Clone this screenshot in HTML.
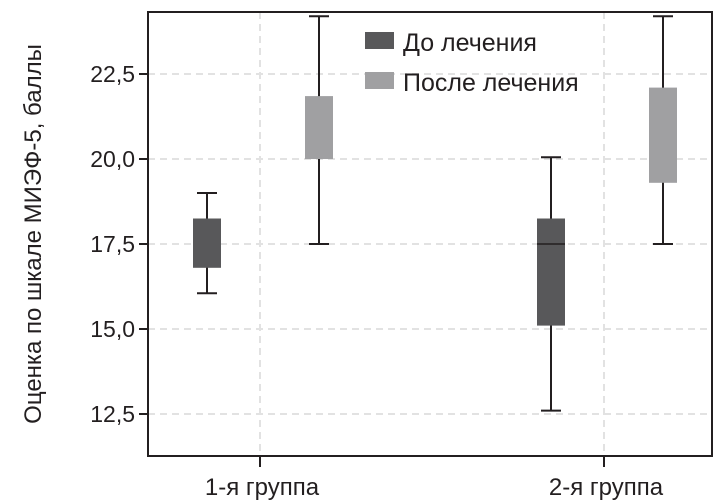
<!DOCTYPE html>
<html><head><meta charset="utf-8"><style>
html,body{margin:0;padding:0;background:#fff;}
svg{display:block;font-family:"Liberation Sans Narrow","Liberation Sans","DejaVu Sans Condensed",sans-serif;}
</style></head><body>
<svg id="chart" width="724" height="503" viewBox="0 0 724 503"></svg>
<script>
const categories = ["1-я группа", "2-я группа"];
const seriesNames = ["До лечения", "После лечения"];
const seriesColors = ["#58585a", "#a0a0a2"];
// [whiskerLow, q1, median, q3, whiskerHigh]
const beforeStats = [[16.05, 16.8, 16.8, 18.25, 19.0], [12.6, 15.1, 17.5, 18.25, 20.05]];
const afterStats = [[17.5, 20.0, 20.0, 21.85, 24.2], [17.5, 19.3, 19.3, 22.1, 24.2]];
const yTicks = [12.5, 15.0, 17.5, 20.0, 22.5];
const yTickLabels = ["12,5", "15,0", "17,5", "20,0", "22,5"];

const NS = "http://www.w3.org/2000/svg";
const svg = document.getElementById("chart");
const L = 148, R = 712, T = 12, B = 456;
const y = v => 159 - (v - 20) * 34;
const catX = i => [262, 606][i];
function el(tag, attrs, parent) {
  const e = document.createElementNS(NS, tag);
  for (const k in attrs) e.setAttribute(k, attrs[k]);
  (parent || svg).appendChild(e);
  return e;
}
yTicks.forEach((v, i) => {
  const g = el("line", {x1: L, x2: R, y1: y(v), y2: y(v), stroke: "#e2e2e2", "stroke-width": 2, "stroke-dasharray": "7,5"});
  
  
  const t = el("line", {x1: L - 9, x2: L, y1: y(v), y2: y(v), stroke: "#231f20", "stroke-width": 2});
  
  
  const lb = el("text", {x: L - 13, y: y(v) + 8, "text-anchor": "end", "font-size": 23, fill: "#231f20"});
  lb.textContent = yTickLabels[i];
  
  
});
categories.forEach((c, i) => {
  const gx = catX(i) - 2;
  const g = el("line", {x1: gx, x2: gx, y1: T, y2: B, stroke: "#e2e2e2", "stroke-width": 2, "stroke-dasharray": "7,5"});
  
  
  const t = el("line", {x1: gx, x2: gx, y1: B, y2: B + 11, stroke: "#231f20", "stroke-width": 2});
  
  
  const lb = el("text", {x: gx + 2, y: 495, "text-anchor": "middle", "font-size": 24, fill: "#231f20"});
  lb.textContent = c;
  
  
});
[beforeStats, afterStats].forEach((stats, s) => {
  stats.forEach((st, i) => {
    const cx = catX(i) + (s === 0 ? -55 : 57);
    const w = 28;
    const g = el("g", {});
    
    
    el("line", {x1: cx, x2: cx, y1: y(st[0]), y2: y(st[4]), stroke: "#231f20", "stroke-width": 2}, g);
    el("line", {x1: cx - 10, x2: cx + 10, y1: y(st[0]), y2: y(st[0]), stroke: "#231f20", "stroke-width": 2}, g);
    el("line", {x1: cx - 10, x2: cx + 10, y1: y(st[4]), y2: y(st[4]), stroke: "#231f20", "stroke-width": 2}, g);
    el("rect", {x: cx - w / 2, y: y(st[3]), width: w, height: y(st[1]) - y(st[3]), fill: seriesColors[s]}, g);
    if (st[2] > st[1] && st[2] < st[3]) {
      el("line", {x1: cx - w / 2, x2: cx + w / 2, y1: y(st[2]), y2: y(st[2]), stroke: "#231f20", "stroke-width": 1.5}, g);
    }
  });
});
const fr = el("rect", {x: L, y: T, width: R - L, height: B - T, fill: "none", stroke: "#231f20", "stroke-width": 2});


seriesNames.forEach((n, i) => {
  const g = el("g", {});
  
  
  el("rect", {x: 365, y: 32 + i * 40, width: 29, height: 17, fill: seriesColors[i]}, g);
  const t = el("text", {x: 403, y: 51 + i * 40, "font-size": 25, fill: "#231f20"}, g);
  t.textContent = n;
});
const yt = el("text", {x: 0, y: 0, "font-size": 24, fill: "#231f20", "text-anchor": "middle", transform: "translate(41,234) rotate(-90)"});
yt.textContent = "Оценка по шкале МИЭФ-5, баллы";


</script>
</body></html>
